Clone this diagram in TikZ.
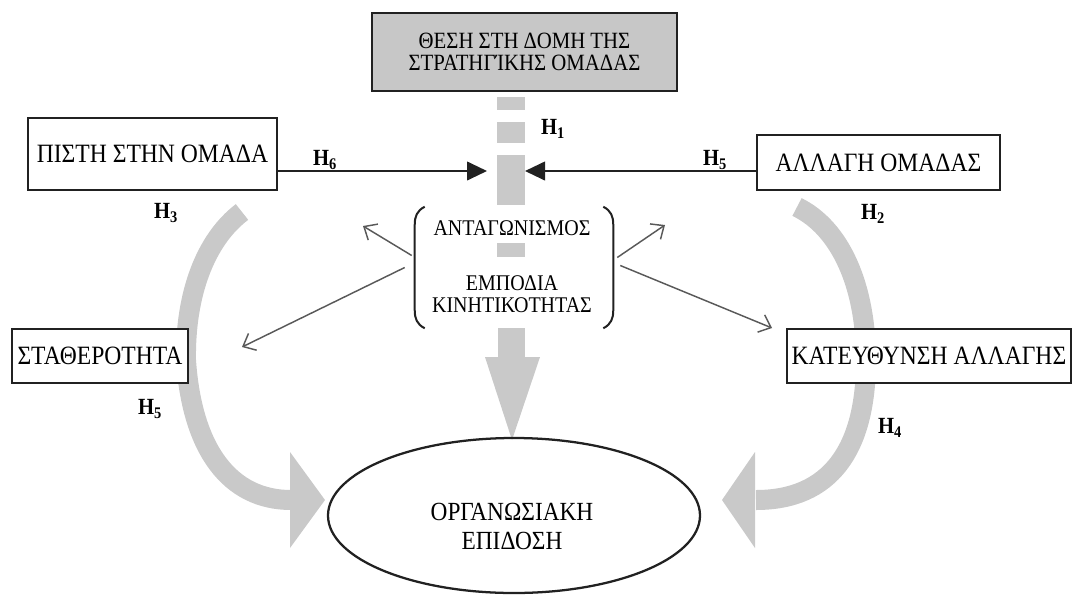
\documentclass[tikz,border=0pt]{standalone}
\usepackage{fontspec}
\setmainfont{Liberation Serif}
\usetikzlibrary{arrows.meta,shapes.geometric,calc}
\definecolor{band}{gray}{0.79}
\definecolor{topfill}{gray}{0.78}
\definecolor{ink}{gray}{0.13}
\definecolor{thin}{gray}{0.35}
\newcommand\tallt[1]{\scalebox{1}[1.12]{#1}}

\begin{document}
\begin{tikzpicture}[x=0.75pt,y=-0.75pt,
  box/.style={draw=ink, line width=1.5pt, fill=white, inner sep=0pt,
              font=\fontsize{17.7}{21}\selectfont},
  hlab/.style={font=\fontsize{15.5}{17}\selectfont\bfseries, inner sep=0pt},
  plain/.style={inner sep=0pt},
  thinarrow/.style={draw=thin, line width=1.1pt,
                    -{Straight Barb[length=8pt,width=14pt]}},
  blackarrow/.style={draw=ink, line width=1.5pt,
                     -{Triangle[length=15pt,width=14pt]}},
  bandline/.style={draw=band, line width=15pt},
  bracket/.style={draw=ink, line width=1.5pt}
]
\useasboundingbox (0,0) rectangle (1072,601);

% broad grey arrows on the two sides
\draw[bandline] (242,212) .. controls (205,240) and (185,295) .. (186,360)
                .. controls (192,450) and (230,500) .. (291,500);
\fill[band] (290,452) -- (325,500) -- (290,548) -- cycle;
\draw[bandline] (797,207) .. controls (840,228) and (866,285) .. (866,360)
                .. controls (866,450) and (830,500) .. (756,500);
\fill[band] (755,452) -- (722,500) -- (755,548) -- cycle;

% dashed grey column down the middle
\fill[band] (497,97) rectangle (525,110);
\fill[band] (497,122) rectangle (525,143);
\fill[band] (497,155) rectangle (525,205);
\fill[band] (497,243) rectangle (525,257);
\fill[band] (498,328) rectangle (525,358);
\fill[band] (485,357) -- (540,357) -- (512,440) -- cycle;

% boxes
\node[box, fill=topfill, minimum width=228.75pt, minimum height=58.5pt,
      font=\fontsize{15.6}{16.5}\selectfont, align=center] (top) at (524.5,51.5)
  {\tallt{ΘΕΣΗ ΣΤΗ ΔΟΜΗ ΤΗΣ}\\\tallt{ΣΤΡΑΤΗΓΊΚΗΣ ΟΜΑΔΑΣ}};
\node[box, minimum width=186.75pt, minimum height=54pt] (pl) at (152.5,154)
  {\tallt{ΠΙΣΤΗ ΣΤΗΝ ΟΜΑΔΑ}};
\node[box, minimum width=182.25pt, minimum height=41.25pt] (pr) at (878.5,162.5)
  {\tallt{ΑΛΛΑΓΗ ΟΜΑΔΑΣ}};
\node[box, minimum width=132pt, minimum height=40.5pt] (ps) at (100,356)
  {\tallt{ΣΤΑΘΕΡΟΤΗΤΑ}};
\node[box, minimum width=213pt, minimum height=40.5pt] (pk) at (929,356)
  {\tallt{ΚΑΤΕΥΘΥΝΣΗ ΑΛΛΑΓΗΣ}};
\node[draw=ink, line width=1.7pt, ellipse, minimum width=279pt,
      minimum height=116.25pt, inner sep=0pt] (ell) at (514,515.5) {};
\node[plain, font=\fontsize{17.5}{21.75}\selectfont, align=center] (perf) at (512,526)
  {\tallt{ΟΡΓΑΝΩΣΙΑΚΗ}\\\tallt{ΕΠΙΔΟΣΗ}};

% bracketed centre
\node[plain, minimum width=148.5pt, minimum height=90.75pt] (ctr) at (514,267.5) {};
\node[plain, font=\fontsize{15}{16.5}\selectfont] (ant) at (512,228)
  {\tallt{ΑΝΤΑΓΩΝΙΣΜΟΣ}};
\node[plain, font=\fontsize{15}{16.5}\selectfont, align=center] (emp) at (512,294)
  {\tallt{ΕΜΠΟΔΙΑ}\\\tallt{ΚΙΝΗΤΙΚΟΤΗΤΑΣ}};
\draw[bracket] ($(ctr.north west)+(10,0)$)
   .. controls ($(ctr.north west)+(2,4)$) and ($(ctr.north west)+(0,10)$) .. ($(ctr.north west)+(0,18)$)
   -- ($(ctr.south west)+(0,-18)$)
   .. controls ($(ctr.south west)+(0,-10)$) and ($(ctr.south west)+(2,-4)$) .. ($(ctr.south west)+(10,0)$);
\draw[bracket] ($(ctr.north east)+(-10,0)$)
   .. controls ($(ctr.north east)+(-2,4)$) and ($(ctr.north east)+(0,10)$) .. ($(ctr.north east)+(0,18)$)
   -- ($(ctr.south east)+(0,-18)$)
   .. controls ($(ctr.south east)+(0,-10)$) and ($(ctr.south east)+(-2,-4)$) .. ($(ctr.south east)+(-10,0)$);

% thin arrows out of the bracket
\coordinate (ul) at (363,226);
\coordinate (ll) at (242,347);
\coordinate (ur) at (665,225);
\coordinate (lr) at (772,328);
\draw[thinarrow] ($(ctr.west)+(-3,-12)$) -- (ul);
\draw[thinarrow] ($(ctr.west)+(-10,0)$) -- (ll);
\draw[thinarrow] ($(ctr.east)+(4,-10)$) -- (ur);
\draw[thinarrow] ($(ctr.east)+(7,-2)$) -- (lr);

% black arrows into the column
\coordinate (tipL) at (487,171);
\coordinate (tipR) at (525,171);
\draw[blackarrow] (pl.east |- tipL) -- (tipL);
\draw[blackarrow] (pr.west |- tipR) -- (tipR);

% hypothesis labels
\node[hlab] (h1) at (553,129) {\tallt{H\textsubscript{1}}};
\node[hlab] (h6a) at (325,160) {\tallt{H\textsubscript{6}}};
\node[hlab] (h6b) at (715,160) {\tallt{H\textsubscript{5}}};
\node[hlab] (h3) at (166,213) {\tallt{H\textsubscript{3}}};
\node[hlab] (h2) at (873,214) {\tallt{H\textsubscript{2}}};
\node[hlab] (h5) at (150,409) {\tallt{H\textsubscript{5}}};
\node[hlab] (h4) at (890,428) {\tallt{H\textsubscript{4}}};
\end{tikzpicture}
\end{document}
